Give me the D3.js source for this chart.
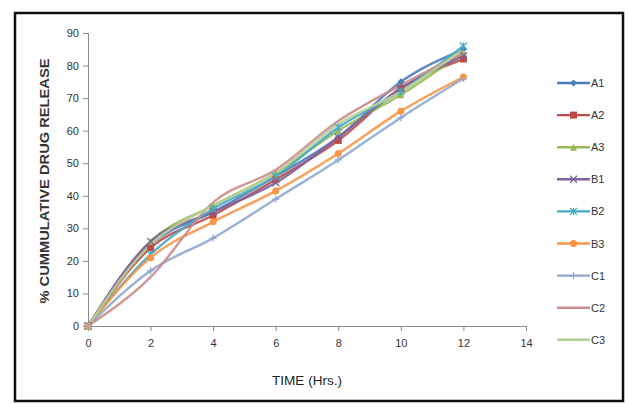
<!doctype html>
<html>
<head>
  <script src="https://cdnjs.cloudflare.com/ajax/libs/d3/7.8.5/d3.min.js" type="text/JavaScript"></script>
  <style>
    body { margin: 0; background: #fff; }
    text { font-family: "Liberation Sans", Arial, sans-serif; }
  </style>
</head>
<body>
<svg height="404" width="628"></svg>
<script type="text/javascript">
var hours = [0, 2, 4, 6, 8, 10, 12];
var seriesNames = ["A1", "A2", "A3", "B1", "B2", "B3", "C1", "C2", "C3"];
var A1 = [0, 25, 35, 46, 58, 75, 85];
var A2 = [0, 24, 34, 45, 57, 73, 82];
var A3 = [0, 26, 37, 47, 60, 71, 84];
var B1 = [0, 26, 35, 44, 58, 73, 83];
var B2 = [0, 22, 36, 46, 61, 72, 86];
var B3 = [0, 21, 32, 41.5, 53, 66, 76.5];
var C1 = [0, 17, 27, 39, 51, 64, 76];
var C2 = [0, 15, 38, 48, 63, 74, 84];
var C3 = [0, 25, 37, 47, 62, 72, 85];
var yTicks = [0, 10, 20, 30, 40, 50, 60, 70, 80, 90];
var xTicks = [0, 2, 4, 6, 8, 10, 12, 14];

var allValues = [A1, A2, A3, B1, B2, B3, C1, C2, C3];
var colors = ["#4A7EBB", "#BE4B48", "#98B954", "#7D60A0", "#46AAC5", "#F79646", "#8FA8D0", "#C98C8A", "#B9CF92"];
var markers = ["diamond", "square", "triangle", "x", "star", "circle", "plus", "none", "none"];

var svg = d3.select("svg");

svg.append("rect")
  .attr("x", 15).attr("y", 13)
  .attr("width", 608).attr("height", 388)
  .style("fill", "#fff")
  .style("stroke", "#111")
  .style("stroke-width", "2.5px");

var x = d3.scaleLinear().domain([0, 14]).range([88, 526]);
var y = d3.scaleLinear().domain([0, 90]).range([326, 33]);

// axes
var yAxis = svg.append("g")
  .attr("transform", "translate(88,0)")
  .call(d3.axisLeft(y).tickValues(yTicks).tickSize(5).tickPadding(4));
var xAxis = svg.append("g")
  .attr("transform", "translate(0,326)")
  .call(d3.axisBottom(x).tickValues(xTicks).tickSize(5).tickPadding(8));
[xAxis, yAxis].forEach(function(a) {
  a.select(".domain").style("stroke", "#8a8a8a");
  a.selectAll(".tick line").style("stroke", "#8a8a8a");
  a.selectAll(".tick text").style("font-size", "11px").style("fill", "#333");
});

svg.append("text")
  .attr("transform", "translate(49,181) rotate(-90)")
  .attr("text-anchor", "middle")
  .attr("textLength", 245)
  .attr("lengthAdjust", "spacingAndGlyphs")
  .style("font-size", "12.5px")
  .style("font-weight", "bold")
  .style("fill", "#333")
  .text("% CUMMULATIVE DRUG RELEASE");

svg.append("text")
  .attr("x", 307).attr("y", 385)
  .attr("text-anchor", "middle")
  .attr("textLength", 70)
  .attr("lengthAdjust", "spacingAndGlyphs")
  .style("font-size", "12px")
  .style("fill", "#222")
  .text("TIME (Hrs.)");

function drawMarker(g, type, color, s) {
  if (type == "diamond") {
    g.append("path").attr("d", "M0,-" + s + "L" + s + ",0L0," + s + "L-" + s + ",0Z").style("fill", color);
  } else if (type == "square") {
    g.append("rect").attr("x", -s).attr("y", -s).attr("width", 2 * s).attr("height", 2 * s).style("fill", color);
  } else if (type == "triangle") {
    g.append("path").attr("d", "M0,-" + s + "L" + s + "," + s + "L-" + s + "," + s + "Z").style("fill", color);
  } else if (type == "circle") {
    g.append("circle").attr("r", s).style("fill", color);
  } else if (type == "x" || type == "star" || type == "plus") {
    var p = "";
    if (type != "plus") p += "M-" + s + ",-" + s + "L" + s + "," + s + "M-" + s + "," + s + "L" + s + ",-" + s;
    if (type != "x") p += "M0,-" + s + "L0," + s;
    if (type == "plus") p += "M-" + s + ",0L" + s + ",0";
    g.append("path").attr("d", p).style("stroke", color).style("stroke-width", "1.3px").style("fill", "none");
  }
}

var line = d3.line()
  .x(function(d, i) { return x(hours[i]); })
  .y(function(d) { return y(d); })
  .curve(d3.curveMonotoneX);

var plot = svg.append("g");
allValues.forEach(function(vals, k) {
  plot.append("path")
    .attr("d", line(vals))
    .style("fill", "none")
    .style("stroke", colors[k])
    .style("stroke-width", "2.4px")
    .style("opacity", 0.9);
});
allValues.forEach(function(vals, k) {
  vals.forEach(function(v, i) {
    var g = plot.append("g").attr("transform", "translate(" + x(hours[i]) + "," + y(v) + ")");
    drawMarker(g, markers[k], colors[k], 3.5);
  });
});

// legend
var legend = svg.append("g");
seriesNames.forEach(function(name, k) {
  var ly = 83 + k * 32.1;
  legend.append("line")
    .attr("x1", 557).attr("x2", 590)
    .attr("y1", ly).attr("y2", ly)
    .style("stroke", colors[k])
    .style("stroke-width", "2.4px");
  var g = legend.append("g").attr("transform", "translate(573.5," + ly + ")");
  drawMarker(g, markers[k], colors[k], 3.5);
  legend.append("text")
    .attr("x", 591).attr("y", ly + 4)
    .style("font-size", "11px")
    .style("fill", "#333")
    .text(name);
});
</script>
</body>
</html>
